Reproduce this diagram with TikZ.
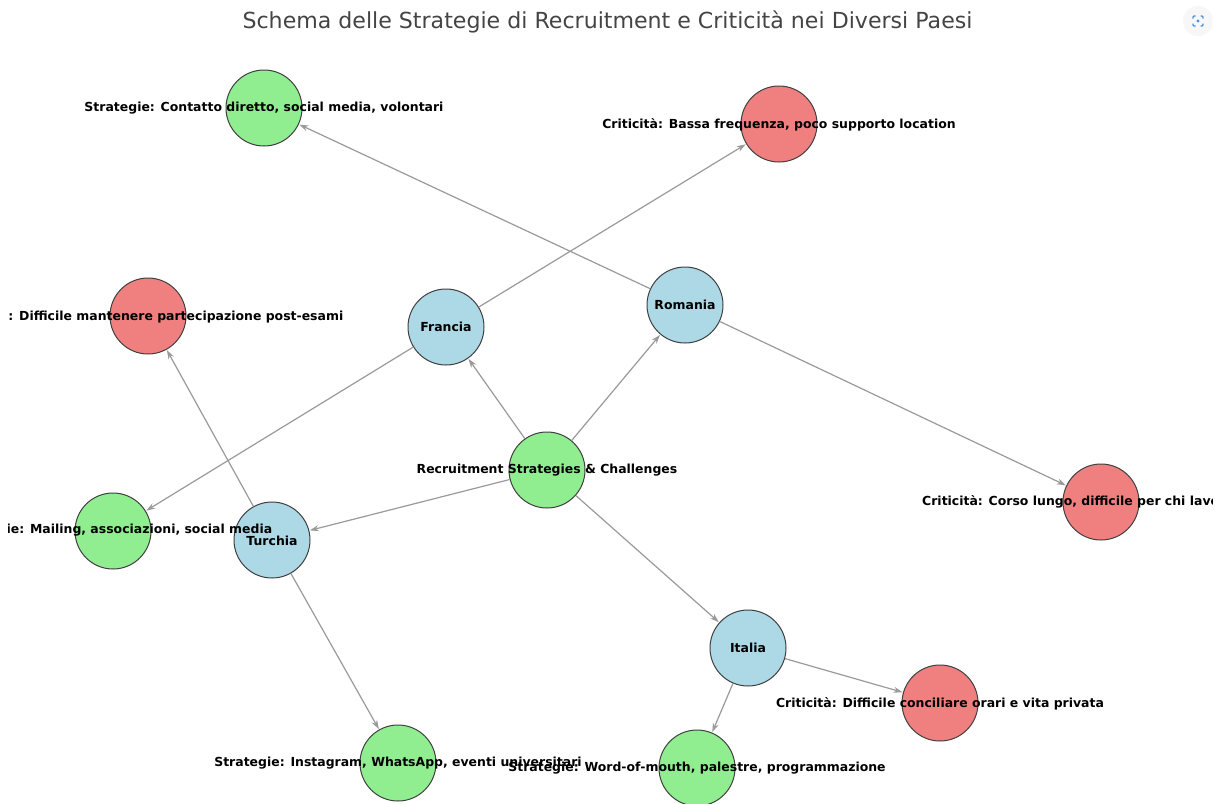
\documentclass[tikz,border=0pt]{standalone}
\usepackage{fontspec}
\setmainfont{DejaVu Sans}
\usetikzlibrary{arrows.meta}
\definecolor{ngreen}{HTML}{90EE90}
\definecolor{nblue}{HTML}{ADD8E6}
\definecolor{nred}{HTML}{F08080}
\definecolor{edgegray}{HTML}{9A9A9A}
\definecolor{titlegray}{HTML}{444444}
\definecolor{iconblue}{HTML}{4A8FE0}
\tikzset{
  circ/.style={circle, draw=black!75, line width=1pt, minimum size=76pt, inner sep=0pt},
  gnode/.style={circ, fill=ngreen},
  bnode/.style={circ, fill=nblue},
  rnode/.style={circ, fill=nred},
  lab/.style={font=\bfseries\fontsize{12.45}{14}\selectfont, text=black, inner sep=0pt},
  edge/.style={draw=edgegray, line width=1.2pt, -{Stealth[length=9pt,width=6pt]}, shorten >=0.5pt}
}
\begin{document}
\begin{tikzpicture}[x=1pt,y=-1pt]
\useasboundingbox (0,0) rectangle (1215,803);
\fill[white] (0,0) rectangle (1215,803);
\clip (8,0) rectangle (1212,803);
% title
\node[font=\fontsize{22.1}{25}\selectfont, text=titlegray] (title) at (607.5,22) {Schema delle Strategie di Recruitment e Criticità nei Diversi Paesi};
% icon
\node[circle, fill=black!3, minimum size=30pt, inner sep=0pt] (icon) at (1198,21) {};
\draw[iconblue, line width=1.2pt, rounded corners=1pt] (1193,18.5) -- (1193,16) -- (1195.5,16) (1200.5,16) -- (1203,16) -- (1203,18.5) (1203,23.5) -- (1203,26) -- (1200.5,26) (1195.5,26) -- (1193,26) -- (1193,23.5);
\fill[iconblue] (1198,21) circle (1.6pt);
% circles
\node[gnode] (c) at (547,470) {};
\node[bnode] (fr) at (446,327) {};
\node[bnode] (ro) at (685,305) {};
\node[bnode] (tu) at (272,540) {};
\node[bnode] (it) at (748,648) {};
\node[gnode] (g1) at (264,108) {};
\node[rnode] (r1) at (779,124) {};
\node[rnode] (r2) at (148,316) {};
\node[rnode] (r3) at (1101,502) {};
\node[gnode] (g2) at (113,531) {};
\node[gnode] (g3) at (398,763) {};
\node[gnode] (g4) at (697,768) {};
\node[rnode] (r4) at (940,703) {};
% edges
\draw[edge] (c) -- (fr);
\draw[edge] (c) -- (ro);
\draw[edge] (c) -- (tu);
\draw[edge] (c) -- (it);
\draw[edge] (fr) -- (r1);
\draw[edge] (fr) -- (g2);
\draw[edge] (ro) -- (g1);
\draw[edge] (ro) -- (r3);
\draw[edge] (tu) -- (r2);
\draw[edge] (tu) -- (g3);
\draw[edge] (it) -- (g4);
\draw[edge] (it) -- (r4);
% labels
\node[lab] (lc) at (547,470) {Recruitment Strategies \& Challenges};
\node[lab] (lfr) at (446,327) {Francia};
\node[lab] (lro) at (685,305) {Romania};
\node[lab] (ltu) at (272,541) {Turchia};
\node[lab] (lit) at (748,648) {Italia};
\node[lab] (lg1) at (264,108) {Strategie: Contatto diretto, social media, volontari};
\node[lab] (lr1) at (779,125) {Criticità: Bassa frequenza, poco supporto location};
\node[lab] (lr2) at (148,317) {Criticità: Difficile mantenere partecipazione post-esami};
\node[lab, anchor=west] (lr3) at (922,502) {Criticità: Corso lungo, difficile per chi lavora};
\node[lab] (lg2) at (113,530) {Strategie: Mailing, associazioni, social media};
\node[lab] (lg3) at (398,763) {Strategie: Instagram, WhatsApp, eventi universitari};
\node[lab] (lg4) at (697,768) {Strategie: Word-of-mouth, palestre, programmazione};
\node[lab] (lr4) at (940,704) {Criticità: Difficile conciliare orari e vita privata};
\end{tikzpicture}
\end{document}
